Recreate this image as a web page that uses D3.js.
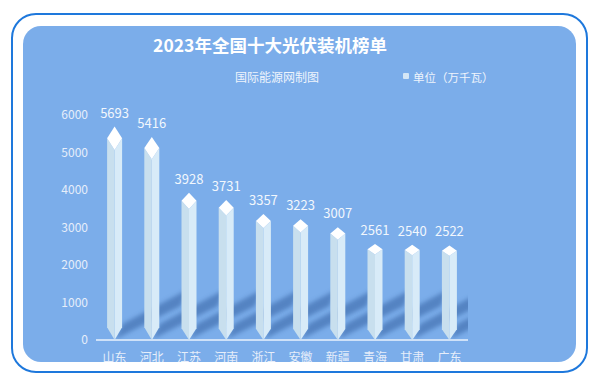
<!DOCTYPE html>
<html>
<head>
<meta charset="utf-8">
<script src="https://cdn.jsdelivr.net/npm/d3@7"></script>
<style>
  body { margin: 0; background: #fff; }
  svg { display: block; font-family: "Noto Sans CJK SC", "Noto Sans", sans-serif; }
</style>
</head>
<body>
<div id="chart"></div>
<script>
var provinces = ["山东", "河北", "江苏", "河南", "浙江", "安徽", "新疆", "青海", "甘肃", "广东"];
var capacity = [5693, 5416, 3928, 3731, 3357, 3223, 3007, 2561, 2540, 2522];
var yTicks = [0, 1000, 2000, 3000, 4000, 5000, 6000];

var w = 605, h = 382;
var svg = d3.select("#chart").append("svg")
  .attr("width", w).attr("height", h);

var defs = svg.append("defs");
defs.append("clipPath").attr("id", "panelClip")
  .append("rect").attr("x", 23).attr("y", 26).attr("width", 553).attr("height", 336).attr("rx", 18);
defs.append("clipPath").attr("id", "plotClip")
  .append("rect").attr("x", 96).attr("y", 100).attr("width", 372).attr("height", 240);
defs.append("filter").attr("id", "blur").attr("x", "-20%").attr("y", "-20%").attr("width", "140%").attr("height", "140%")
  .append("feGaussianBlur").attr("stdDeviation", 2.2);

// frame
svg.append("rect")
  .attr("x", 12).attr("y", 14).attr("width", 575).attr("height", 358).attr("rx", 24)
  .style("fill", "#fff").style("stroke", "#1e78dc").style("stroke-width", 2);

var panel = svg.append("g").attr("clip-path", "url(#panelClip)");
panel.append("rect")
  .attr("x", 23).attr("y", 26).attr("width", 553).attr("height", 336)
  .style("fill", "#7badea");

panel.append("text")
  .attr("x", 270).attr("y", 52).attr("text-anchor", "middle")
  .style("font-size", "17.5px").style("font-weight", "bold").style("fill", "#fff")
  .text("2023年全国十大光伏装机榜单");

panel.append("text")
  .attr("x", 277).attr("y", 82).attr("text-anchor", "middle")
  .style("font-size", "12px").style("fill", "#eef4fc")
  .text("国际能源网制图");

panel.append("rect").attr("x", 403).attr("y", 73).attr("width", 6).attr("height", 6).attr("rx", 1)
  .style("fill", "#d4e6f6");
panel.append("text")
  .attr("x", 413).attr("y", 82)
  .style("font-size", "11.5px").style("fill", "#eef4fc")
  .text("单位（万千瓦）");

var x = d3.scaleBand().domain(provinces).range([96, 468]).padding(0);
var y = d3.scaleLinear().domain([0, 6000]).range([340, 115]);

// y labels
panel.append("g").selectAll("text").data(yTicks).enter().append("text")
  .attr("x", 88).attr("y", d => y(d) + 4).attr("text-anchor", "end")
  .style("font-size", "12px").style("fill", "#e6eefa")
  .text(d => d);

// shadows
var shadowG = panel.append("g").attr("clip-path", "url(#plotClip)");
shadowG.selectAll("path").data(capacity).enter().append("path")
  .attr("d", function(d, i) {
    var cx = x(provinces[i]) + x.bandwidth() / 2;
    var b = y(0);
    return "M" + (cx + 1) + "," + (b - 1) +
      " L" + (cx + 8) + "," + (b - 16) +
      " L" + (cx + 72) + "," + (b - 50) +
      " L" + (cx + 66) + "," + (b - 34) + " Z";
  })
  .attr("filter", "url(#blur)")
  .style("fill", "#3a68a8").style("opacity", 0.6);

// axis line
panel.append("line")
  .attr("x1", 96).attr("x2", 468).attr("y1", y(0)).attr("y2", y(0))
  .style("stroke", "#eaf3fd").style("stroke-width", 1.5);

// bars
var hw = 7.5;
var bars = panel.append("g").selectAll("g").data(capacity).enter().append("g");
bars.each(function(d, i) {
  var g = d3.select(this);
  var cx = x(provinces[i]) + x.bandwidth() / 2;
  var top = y(d), base = y(0);
  var bh = base - top;
  var k = bh * 0.055;
  var tip = 9 + bh * 0.018;
  g.append("path")
    .attr("d", "M" + (cx - hw) + "," + (top + k) + " L" + cx + "," + (top + 2 * k) +
      " L" + cx + "," + base + " L" + (cx - hw) + "," + (base - tip) + " Z")
    .style("fill", "#c8dfee");
  g.append("path")
    .attr("d", "M" + (cx + hw) + "," + (top + k) + " L" + cx + "," + (top + 2 * k) +
      " L" + cx + "," + base + " L" + (cx + hw) + "," + (base - tip) + " Z")
    .style("fill", "#d8ebf8");
  g.append("path")
    .attr("d", "M" + cx + "," + top + " L" + (cx + hw) + "," + (top + k) +
      " L" + cx + "," + (top + 2 * k) + " L" + (cx - hw) + "," + (top + k) + " Z")
    .style("fill", "#ffffff");
  g.append("text")
    .attr("x", cx).attr("y", top - 9).attr("text-anchor", "middle")
    .style("font-size", "13px").style("fill", "#f2f7fd")
    .text(d);
});

// category labels
panel.append("g").selectAll("text").data(provinces).enter().append("text")
  .attr("x", d => x(d) + x.bandwidth() / 2).attr("y", 362)
  .attr("text-anchor", "middle")
  .style("font-size", "12px").style("fill", "#e6eefa")
  .text(d => d);
</script>
</body>
</html>
